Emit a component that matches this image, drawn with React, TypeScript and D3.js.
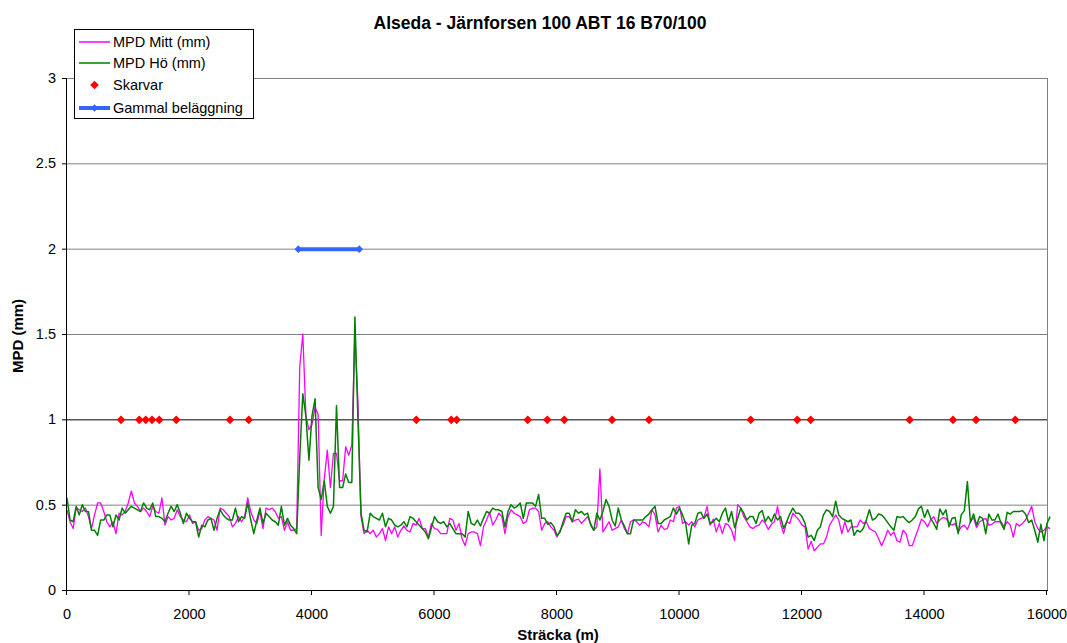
import React from "react";
import * as d3 from "d3";

// Road texture profile: MPD measured every 50 m along the section
const STEP_M = 50;

const mpdMitt: number[] = [
  0.47, 0.40, 0.36, 0.48, 0.47, 0.46, 0.48, 0.43, 0.36, 0.44,
  0.51, 0.51, 0.46, 0.40, 0.37, 0.40, 0.33, 0.45, 0.44, 0.46,
  0.51, 0.58, 0.51, 0.49, 0.46, 0.48, 0.46, 0.43, 0.49, 0.46,
  0.45, 0.54, 0.38, 0.43, 0.41, 0.42, 0.47, 0.43, 0.41, 0.40,
  0.44, 0.39, 0.40, 0.35, 0.36, 0.41, 0.43, 0.42, 0.41, 0.35,
  0.48, 0.47, 0.45, 0.43, 0.37, 0.39, 0.43, 0.40, 0.43, 0.54,
  0.46, 0.41, 0.39, 0.46, 0.36, 0.48, 0.47, 0.48, 0.46, 0.42,
  0.43, 0.35, 0.40, 0.35, 0.35, 0.36, 1.31, 1.50, 1.02, 0.94,
  0.97, 1.07, 1.03, 0.32, 0.65, 0.82, 0.60, 0.80, 0.80, 0.64,
  0.64, 0.84, 0.79, 0.85, 1.50, 1.10, 0.43, 0.33, 0.35, 0.33,
  0.35, 0.31, 0.33, 0.36, 0.29, 0.37, 0.33, 0.37, 0.31,
  0.35, 0.375, 0.35, 0.34, 0.39, 0.38, 0.42, 0.36, 0.36, 0.31,
  0.39, 0.36, 0.355, 0.33, 0.33, 0.33, 0.42, 0.41, 0.35, 0.39,
  0.30, 0.26, 0.33, 0.34, 0.34, 0.33, 0.26, 0.37, 0.41, 0.455,
  0.38, 0.41, 0.45, 0.43, 0.33, 0.43, 0.47, 0.45, 0.44, 0.43,
  0.39, 0.40, 0.47, 0.48, 0.48, 0.46, 0.35, 0.39, 0.40, 0.37,
  0.35, 0.31, 0.35, 0.38, 0.43, 0.43, 0.40, 0.41, 0.415, 0.39,
  0.41, 0.43, 0.39, 0.35, 0.37, 0.71, 0.34, 0.37, 0.40, 0.35,
  0.36, 0.37, 0.41, 0.36, 0.33, 0.40, 0.41, 0.40, 0.38,
  0.40, 0.39, 0.37, 0.47, 0.44, 0.34, 0.38, 0.355, 0.36, 0.41,
  0.40, 0.48, 0.49, 0.39, 0.40, 0.38, 0.40, 0.37, 0.41, 0.42,
  0.425, 0.49, 0.38, 0.415, 0.34, 0.39, 0.33, 0.39, 0.38, 0.35,
  0.29, 0.50, 0.48, 0.43, 0.40, 0.37, 0.36, 0.375, 0.38, 0.41,
  0.39, 0.355, 0.385, 0.40, 0.49, 0.39, 0.33, 0.40, 0.39, 0.45,
  0.43, 0.41, 0.38, 0.37, 0.24, 0.285, 0.23, 0.25, 0.27, 0.27,
  0.31, 0.38, 0.41, 0.44, 0.41, 0.33, 0.40, 0.34, 0.37, 0.37,
  0.37, 0.41, 0.39, 0.40, 0.36, 0.35, 0.34, 0.30,
  0.26, 0.30, 0.35, 0.32, 0.34, 0.29, 0.28, 0.35, 0.33, 0.26,
  0.26, 0.31, 0.36, 0.415, 0.40, 0.37, 0.41, 0.43, 0.39, 0.41,
  0.425, 0.42, 0.395, 0.38, 0.39, 0.34, 0.37, 0.38, 0.355, 0.40,
  0.425, 0.365, 0.40, 0.41, 0.42, 0.38, 0.385, 0.40, 0.40, 0.40,
  0.37, 0.40, 0.38, 0.31, 0.39, 0.375, 0.39, 0.41, 0.45, 0.49,
  0.40, 0.36, 0.34, 0.35, 0.37, 0.36,
];

const mpdHo: number[] = [
  0.54, 0.41, 0.40, 0.49, 0.44, 0.50, 0.46, 0.46, 0.35, 0.35,
  0.32, 0.41, 0.41, 0.44, 0.44, 0.37, 0.44, 0.41, 0.48, 0.45,
  0.47, 0.49, 0.48, 0.47, 0.46, 0.51, 0.48, 0.47, 0.51, 0.43,
  0.43, 0.42, 0.40, 0.45, 0.49, 0.46, 0.50, 0.45, 0.39, 0.45,
  0.42, 0.40, 0.40, 0.31, 0.38, 0.37, 0.41, 0.42, 0.35, 0.42,
  0.47, 0.44, 0.42, 0.41, 0.41, 0.48, 0.40, 0.43, 0.42, 0.51,
  0.41, 0.33, 0.41, 0.48, 0.39, 0.45, 0.43, 0.41, 0.40, 0.38,
  0.49, 0.38, 0.42, 0.38, 0.36, 0.33, 0.78, 1.15, 1.02, 0.76,
  1.02, 1.12, 0.60, 0.53, 0.64, 0.49, 0.45, 0.49, 1.08, 0.60,
  0.60, 0.68, 0.63, 0.63, 1.60, 1.00, 0.45, 0.35, 0.34, 0.45,
  0.43, 0.42, 0.41, 0.45, 0.37, 0.42, 0.41, 0.38, 0.37,
  0.38, 0.40, 0.37, 0.43, 0.42, 0.40, 0.38, 0.36, 0.34, 0.30,
  0.365, 0.43, 0.40, 0.39, 0.40, 0.37, 0.39, 0.36, 0.33, 0.33,
  0.33, 0.31, 0.46, 0.39, 0.38, 0.41, 0.375, 0.42, 0.46, 0.45,
  0.48, 0.47, 0.47, 0.46, 0.37, 0.46, 0.50, 0.48, 0.49, 0.51,
  0.42, 0.51, 0.51, 0.51, 0.49, 0.56, 0.42, 0.42, 0.385, 0.395,
  0.37, 0.32, 0.34, 0.40, 0.45, 0.45, 0.40, 0.47, 0.45, 0.46,
  0.44, 0.45, 0.38, 0.35, 0.45, 0.41, 0.46, 0.53, 0.49, 0.41,
  0.375, 0.48, 0.41, 0.375, 0.33, 0.33, 0.41, 0.41, 0.41,
  0.41, 0.43, 0.445, 0.47, 0.49, 0.39, 0.39, 0.41, 0.42, 0.43,
  0.48, 0.445, 0.48, 0.44, 0.39, 0.27, 0.38, 0.39, 0.45, 0.455,
  0.42, 0.445, 0.39, 0.40, 0.42, 0.40, 0.45, 0.48, 0.40, 0.46,
  0.365, 0.42, 0.48, 0.45, 0.41, 0.43, 0.43, 0.39, 0.45, 0.465,
  0.40, 0.43, 0.40, 0.445, 0.41, 0.43, 0.36, 0.40, 0.445, 0.48,
  0.45, 0.45, 0.43, 0.39, 0.31, 0.32, 0.29, 0.35, 0.37, 0.44,
  0.47, 0.46, 0.43, 0.52, 0.44, 0.42, 0.41, 0.40, 0.41, 0.32,
  0.35, 0.34, 0.36, 0.41, 0.47, 0.41, 0.42, 0.445,
  0.44, 0.42, 0.395, 0.37, 0.35, 0.43, 0.425, 0.43, 0.41, 0.395,
  0.41, 0.43, 0.475, 0.49, 0.425, 0.47, 0.42, 0.39, 0.355, 0.475,
  0.44, 0.47, 0.37, 0.42, 0.425, 0.33, 0.44, 0.465, 0.635, 0.395,
  0.445, 0.38, 0.43, 0.42, 0.33, 0.445, 0.41, 0.41, 0.445, 0.39,
  0.355, 0.455, 0.445, 0.46, 0.46, 0.46, 0.465, 0.445, 0.395, 0.41,
  0.35, 0.28, 0.385, 0.29, 0.39, 0.43,
];

// Joint positions (m), plotted at MPD = 1
const skarvar: number[] = [
  882, 1180, 1285, 1388, 1507, 1784, 2661, 2967, 5703, 6274, 6362, 7522,
  7842, 8119, 8898, 9502, 11162, 11923, 12142, 13758, 14465, 14841, 15482,
];
const skarvLevel = 1;

// Old pavement stretch (m), plotted at MPD = 2
const gammalStart = 3776;
const gammalEnd = 4772;
const gammalLevel = 2;

const xTicks: number[] = [0, 2000, 4000, 6000, 8000, 10000, 12000, 14000, 16000];
const yTicks: number[] = [0, 0.5, 1, 1.5, 2, 2.5, 3];

const legendItems: string[] = [
  "MPD Mitt (mm)",
  "MPD Hö (mm)",
  "Skarvar",
  "Gammal beläggning",
];

const FONT = "'Liberation Sans', Arial, Helvetica, sans-serif";

export default function App() {
  const W = 1067;
  const H = 643;
  const left = 67;
  const right = 1047;
  const top = 78;
  const bottom = 590;

  const x = d3.scaleLinear().domain([0, 16000]).range([left, right]);
  const y = d3.scaleLinear().domain([0, 3]).range([bottom, top]);

  const line = d3
    .line<number>()
    .x((_, i) => x(i * STEP_M))
    .y((v) => y(v));

  const diamond = (cx: number, cy: number, r: number) =>
    `M${cx},${cy - r}L${cx + r},${cy}L${cx},${cy + r}L${cx - r},${cy}Z`;

  const legendRowY = [42, 63, 85, 108];

  return (
    <svg
      width={W}
      height={H}
      style={{ position: "absolute", left: 0, top: 0, background: "#fff" }}
      fontFamily={FONT}
    >
      <rect x={0} y={0} width={W} height={H} fill="#fff" />

      {/* title */}
      <text
        x={540}
        y={29}
        textAnchor="middle"
        fontSize={17.5}
        fontWeight="bold"
        fill="#000"
      >
        Alseda - Järnforsen 100 ABT 16 B70/100
      </text>

      {/* horizontal gridlines */}
      {yTicks
        .filter((t) => t > 0)
        .map((t) => (
          <line
            key={`g${t}`}
            x1={left}
            x2={right}
            y1={y(t) + 0.5}
            y2={y(t) + 0.5}
            stroke={t === skarvLevel ? "#000" : "#808080"}
            strokeWidth={1}
          />
        ))}
      {/* plot area right edge */}
      <line x1={right + 0.5} x2={right + 0.5} y1={top} y2={bottom} stroke="#808080" strokeWidth={1} />

      {/* data lines */}
      <path
        d={line(mpdMitt) ?? ""}
        fill="none"
        stroke="#ff00ff"
        strokeWidth={1.3}
        strokeLinejoin="round"
      />
      <path
        d={line(mpdHo) ?? ""}
        fill="none"
        stroke="#008000"
        strokeWidth={1.5}
        strokeLinejoin="round"
      />

      {/* joints */}
      {skarvar.map((s, i) => (
        <path key={`s${i}`} d={diamond(x(s), y(skarvLevel) + 0.5, 4.3)} fill="#ff0000" />
      ))}

      {/* old pavement */}
      <line
        x1={x(gammalStart)}
        x2={x(gammalEnd)}
        y1={y(gammalLevel) + 0.5}
        y2={y(gammalLevel) + 0.5}
        stroke="#3366ff"
        strokeWidth={4}
      />
      {[gammalStart, gammalEnd].map((g) => (
        <path key={`gb${g}`} d={diamond(x(g), y(gammalLevel) + 0.5, 3.8)} fill="#3366ff" />
      ))}

      {/* axes */}
      <line x1={left - 0.5} x2={left - 0.5} y1={top} y2={bottom} stroke="#000" strokeWidth={1} />
      <line x1={left - 0.5} x2={right + 1} y1={bottom + 0.5} y2={bottom + 0.5} stroke="#000" strokeWidth={1} />
      {yTicks.map((t) => (
        <g key={`yt${t}`}>
          <line x1={left - 5} x2={left} y1={y(t) + 0.5} y2={y(t) + 0.5} stroke="#000" />
          <text x={56} y={y(t) + 5} textAnchor="end" fontSize={14.5} fill="#000">
            {t}
          </text>
        </g>
      ))}
      {xTicks.map((t) => (
        <g key={`xt${t}`}>
          <line x1={x(t) - 0.5} x2={x(t) - 0.5} y1={bottom} y2={bottom + 5} stroke="#000" />
          <text x={x(t)} y={619} textAnchor="middle" fontSize={14.5} fill="#000">
            {t}
          </text>
        </g>
      ))}

      {/* axis titles */}
      <text x={558} y={640} textAnchor="middle" fontSize={15} fontWeight="bold" fill="#000">
        Sträcka (m)
      </text>
      <text
        transform={`translate(23,336) rotate(-90)`}
        textAnchor="middle"
        fontSize={15}
        fontWeight="bold"
        fill="#000"
      >
        MPD (mm)
      </text>

      {/* legend */}
      <rect x={74.5} y={29.5} width={179} height={89} fill="#fff" stroke="#000" strokeWidth={1} />
      <line x1={79} x2={110} y1={legendRowY[0]} y2={legendRowY[0]} stroke="#ff00ff" strokeWidth={1.5} />
      <line x1={79} x2={110} y1={legendRowY[1]} y2={legendRowY[1]} stroke="#008000" strokeWidth={1.5} />
      <path d={diamond(94.5, legendRowY[2], 4.3)} fill="#ff0000" />
      <line x1={79} x2={110} y1={legendRowY[3]} y2={legendRowY[3]} stroke="#3366ff" strokeWidth={4} />
      <path d={diamond(94.5, legendRowY[3], 3.8)} fill="#3366ff" />
      {legendItems.map((label, i) => (
        <text key={label} x={113} y={legendRowY[i] + 5} fontSize={14.5} fill="#000">
          {label}
        </text>
      ))}
    </svg>
  );
}
